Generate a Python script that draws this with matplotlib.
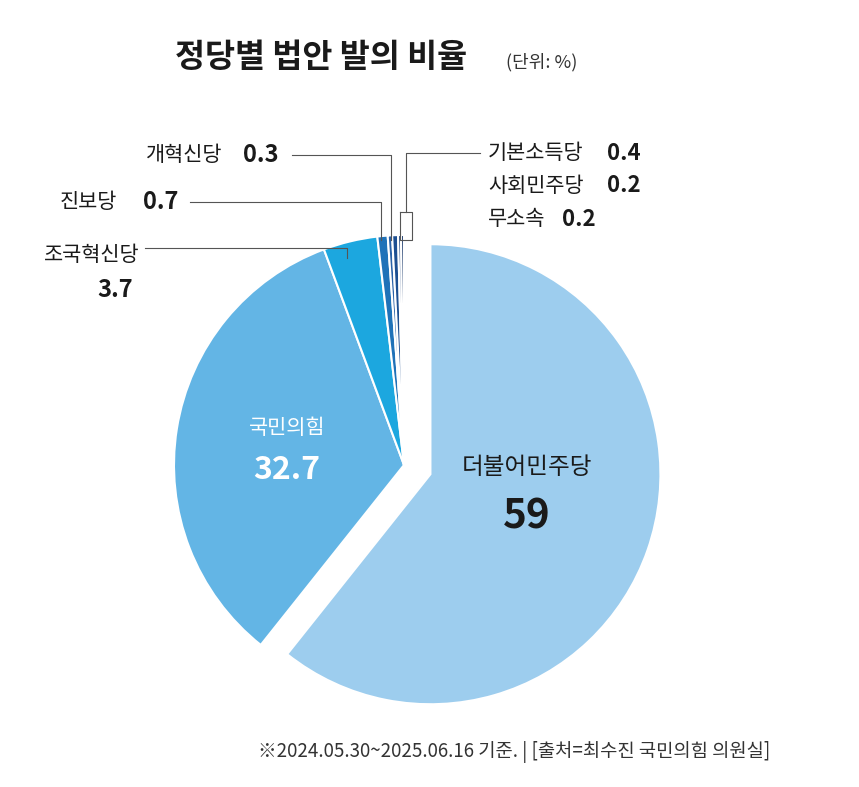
import matplotlib.pyplot as plt
import matplotlib as mpl

mpl.rcParams['font.family'] = 'Noto Sans CJK KR'

W, H = 859, 787

parties = ['더불어민주당', '국민의힘', '조국혁신당', '진보당', '개혁신당',
           '기본소득당', '사회민주당', '무소속']
shares = [59, 32.7, 3.7, 0.7, 0.3, 0.4, 0.2, 0.2]
colors = ['#9dcdee', '#63b5e5', '#1ca7df', '#1f72b8', '#2a62a8',
          '#1d4f91', '#173f7a', '#0f2f63']
explode = [28, 0, 0, 0, 0, 0, 0, 0]   # in pixel units (data coords)

fig = plt.figure(figsize=(W / 100, H / 100), dpi=100)
ax = fig.add_axes([0, 0, 1, 1])


def Y(py):
  return H - py


cx, cy, r = 404, Y(465), 230
ax.pie(shares, colors=colors, explode=explode, startangle=90, counterclock=False,
       center=(cx, cy), radius=r, frame=True,
       wedgeprops=dict(edgecolor='white', linewidth=1.5))
ax.set_xlim(0, W)
ax.set_ylim(0, H)
ax.set_aspect('equal')
ax.axis('off')

# title
ax.text(175, Y(58), '정당별 법안 발의 비율', fontsize=23.5, fontweight='bold',
        va='center', ha='left', color='#1a1a1a')
ax.text(506, Y(62), '(단위: %)', fontsize=13, va='center', ha='left', color='#333333')

# inner labels
ax.text(287, Y(428), parties[1], fontsize=15, color='white', ha='center', va='center')
ax.text(287, Y(470), '%.1f' % shares[1], fontsize=23, fontweight='bold', color='white',
        ha='center', va='center')
ax.text(527, Y(468), parties[0], fontsize=17, color='#1a1a1a', ha='center', va='center')
ax.text(527, Y(517), '%d' % shares[0], fontsize=29, fontweight='bold', color='#1a1a1a',
        ha='center', va='center')

lc = '#555555'
fs, fn = 15, 17
# 조국혁신당
ax.text(140, Y(255), parties[2], fontsize=fs, ha='right', va='center', color='#1a1a1a')
ax.text(133, Y(290), '%.1f' % shares[2], fontsize=fn, fontweight='bold', ha='right',
        va='center', color='#1a1a1a')
ax.plot([145, 347, 347], [Y(248), Y(248), Y(258)], color=lc, lw=0.8)
# 진보당
ax.text(60, Y(202), parties[3], fontsize=fs, ha='left', va='center', color='#1a1a1a')
ax.text(143, Y(202), '%.1f' % shares[3], fontsize=fn, fontweight='bold', ha='left',
        va='center', color='#1a1a1a')
ax.plot([190, 381, 381], [Y(202), Y(202), Y(240)], color=lc, lw=0.8)
# 개혁신당
ax.text(146, Y(155), parties[4], fontsize=fs, ha='left', va='center', color='#1a1a1a')
ax.text(243, Y(155), '%.1f' % shares[4], fontsize=fn, fontweight='bold', ha='left',
        va='center', color='#1a1a1a')
ax.plot([292, 391, 391], [Y(155), Y(155), Y(240)], color=lc, lw=0.8)
# 기본소득당 / 사회민주당 / 무소속
ax.plot([480, 406, 406], [Y(153), Y(153), Y(212)], color=lc, lw=0.8)
ax.plot([400, 412, 412, 400, 400], [Y(212), Y(212), Y(240), Y(240), Y(212)],
        color=lc, lw=0.8)
for i, py, nx in zip([5, 6, 7], [153, 186, 219], [607, 607, 562]):
  ax.text(488, Y(py), parties[i], fontsize=fs, ha='left', va='center', color='#1a1a1a')
  ax.text(nx, Y(py), '%.1f' % shares[i],
          fontsize=fn - 1, fontweight='bold', ha='left', va='center', color='#1a1a1a')

ax.text(770, Y(752), '※2024.05.30~2025.06.16 기준. | [출처=최수진 국민의힘 의원실]',
        fontsize=13.5, ha='right', va='center', color='#333333')

fig.savefig('out.png', dpi=100)
